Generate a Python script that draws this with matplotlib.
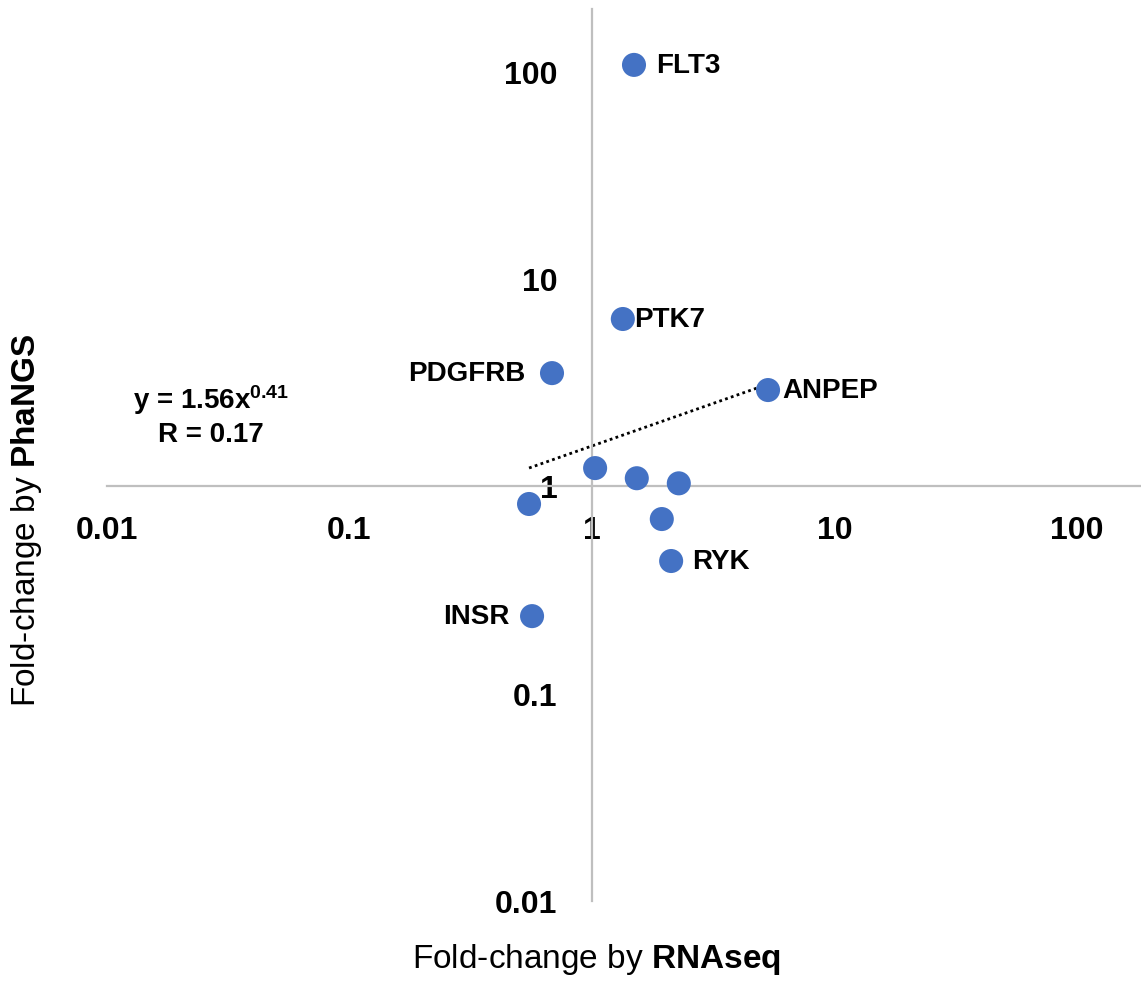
import numpy as np
import matplotlib
matplotlib.use('Agg')
import matplotlib.pyplot as plt

plt.rcParams['font.family'] = ['Liberation Sans', 'DejaVu Sans']
plt.rcParams['mathtext.fontset'] = 'custom'
plt.rcParams['mathtext.rm'] = 'Liberation Sans'
plt.rcParams['mathtext.bf'] = 'Liberation Sans:bold'
plt.rcParams['mathtext.it'] = 'Liberation Sans:italic'

# fold-change values
genes = ['FLT3', 'PTK7', 'PDGFRB', 'ANPEP', '', '', '', '', 'RYK', '', 'INSR']
rnaseq = [1.49, 1.34, 0.684, 5.32, 1.03, 1.53, 2.28, 1.94, 2.12, 0.550, 0.566]
phangs = [107, 6.38, 3.50, 2.90, 1.22, 1.09, 1.03, 0.693, 0.435, 0.819, 0.236]
# label offsets (points) and side
label_offsets = {'FLT3': (16, 0), 'PTK7': (8, 0), 'PDGFRB': (-19, 0),
                 'ANPEP': (10, 0), 'RYK': (15, 0), 'INSR': (-16, 0)}

fit_a, fit_b = 1.56, 0.41
xticks = [0.01, 0.1, 1, 10, 100]
yticks = [0.01, 0.1, 1, 10, 100]

W, H = 1141, 995
fig = plt.figure(figsize=(W / 100, H / 100), dpi=100)
left_px, right_px, top_px, bot_px = 107, 1141, 10, 902
ax = fig.add_axes([left_px / W, (H - bot_px) / H, (right_px - left_px) / W, (bot_px - top_px) / H])
ax.set_xscale('log')
ax.set_yscale('log')
ax.set_xlim(0.01, 10 ** ((right_px - left_px) / 242.5 - 2))
ax.set_ylim(0.01, 10 ** ((bot_px - top_px) / 207.5 - 2))

# axes cross at 1
for s in ['top', 'right']:
    ax.spines[s].set_visible(False)
ax.spines['bottom'].set_position(('data', 1))
ax.spines['left'].set_position(('data', 1))
for s in ['bottom', 'left']:
    ax.spines[s].set_color('#BFBFBF')
    ax.spines[s].set_linewidth(1.6)
ax.set_xticks(xticks)
ax.set_xticklabels([f'{t:g}' for t in xticks])
ax.set_yticks(yticks)
ax.set_yticklabels([f'{t:g}' for t in yticks])
ax.minorticks_off()
ax.tick_params(axis='x', length=0, pad=21, labelsize=23)
ax.tick_params(axis='y', length=0, pad=25, labelsize=23)
for lab in ax.get_xticklabels() + ax.get_yticklabels():
    lab.set_fontweight('bold')

# trendline
xs = np.geomspace(min(rnaseq), max(rnaseq), 50)
ax.plot(xs, fit_a * xs ** fit_b, color='black', linestyle=(0, (1, 1.2)), linewidth=2, zorder=2)

ax.scatter(rnaseq, phangs, s=300, color='#4472C4', edgecolors='none', zorder=3, clip_on=False)

for g, x, y in zip(genes, rnaseq, phangs):
    if not g:
        continue
    dx, dy = label_offsets[g]
    ax.annotate(g, (x, y), xytext=(dx, dy), textcoords='offset points',
                ha='left' if dx > 0 else 'right', va='center',
                fontsize=20, fontweight='bold')

fig.text(211 / W, 1 - 400 / H, r'y = 1.56x$^{\mathbf{0.41}}$', ha='center', va='center',
         fontsize=20, fontweight='bold')
fig.text(211 / W, 1 - 435 / H, 'R = 0.17', ha='center', va='center',
         fontsize=20, fontweight='bold')

fig.text(596 / W, 1 - 960 / H, r'Fold-change by $\mathbf{RNAseq}$', ha='center', va='center',
         fontsize=24)
fig.text(27 / W, 1 - 520 / H, r'Fold-change by $\mathbf{PhaNGS}$', ha='center', va='center',
         fontsize=24, rotation=90)

fig.savefig('out.png', dpi=100)
